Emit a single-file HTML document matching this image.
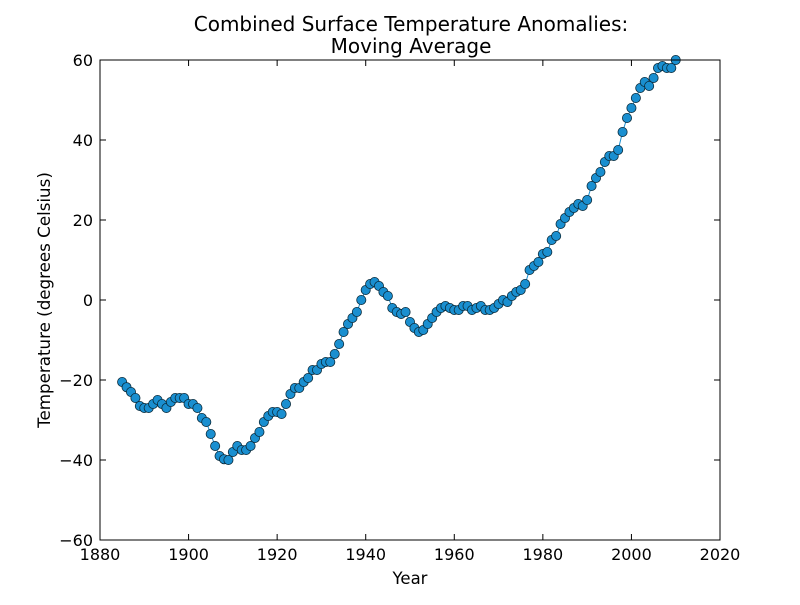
<!DOCTYPE html>
<html><head><meta charset="utf-8"><style>
body{margin:0;background:#fff;}
svg text{font-family:"DejaVu Sans","Liberation Sans",sans-serif;fill:#000;}
</style></head><body>
<svg id="chart" width="800" height="600" xmlns="http://www.w3.org/2000/svg">
<rect width="800" height="600" fill="#fff"/>
<text x="411" y="31" font-size="20" text-anchor="middle">Combined Surface Temperature Anomalies:</text>
<text x="411" y="53" font-size="20" text-anchor="middle">Moving Average</text>
<g id="axes"></g>
<g id="marks"></g>
<rect x="100" y="60" width="620" height="480" fill="none" stroke="#000" stroke-width="1"/>
<text x="410" y="584" font-size="16.5" text-anchor="middle">Year</text>
<text x="50" y="300" font-size="16.7" text-anchor="middle" transform="rotate(-90 50 300)">Temperature (degrees Celsius)</text>
</svg>
<script>
const startYear = 1885;
const values = [-20.5,-21.8,-23,-24.5,-26.5,-27,-27,-26,-25,-26,-27,-25.5,-24.5,-24.5,-24.5,-26,-26,-27,-29.5,-30.5,
-33.5,-36.5,-39,-39.8,-40,-38,-36.5,-37.5,-37.5,-36.5,-34.5,-33,-30.5,-29,-28,-28,-28.5,-26,-23.5,-22,
-22,-20.5,-19.5,-17.5,-17.5,-16,-15.5,-15.5,-13.5,-11,-8,-6,-4.5,-3,0,2.5,4,4.5,3.5,2,
1,-2,-3,-3.5,-3,-5.5,-7,-8,-7.5,-6,-4.5,-3,-2,-1.5,-2,-2.5,-2.5,-1.5,-1.5,-2.5,
-2,-1.5,-2.5,-2.5,-2,-1,0,-0.5,1,2,2.5,4,7.5,8.5,9.5,11.5,12,15,16,19,
20.5,22,23,24,23.5,25,28.5,30.5,32,34.5,36,36,37.5,42,45.5,48,50.5,53,54.5,53.5,
55.5,58,58.5,58,58,60];
const xTicks = [1880,1900,1920,1940,1960,1980,2000,2020];
const yTicks = [-60,-40,-20,0,20,40,60];
const NS="http://www.w3.org/2000/svg";
const X0=100,X1=720,Y0=540,Y1=60;
const xs=v=>X0+(v-1880)/(2020-1880)*(X1-X0);
const ys=v=>Y0-(v+60)/120*(Y0-Y1);
const axes=document.getElementById('axes'),marks=document.getElementById('marks');
function mk(t,a,p){const e=document.createElementNS(NS,t);for(const k in a)e.setAttribute(k,a[k]);p.appendChild(e);return e;}
xTicks.forEach(t=>{
 const x=xs(t);
 const g=mk('g',{},axes);
 
 
 mk('line',{x1:x,x2:x,y1:Y0,y2:Y0-6,stroke:'#000'},g);
 mk('line',{x1:x,x2:x,y1:Y1,y2:Y1+6,stroke:'#000'},g);
 const tx=mk('text',{x:x,y:Y0+20,'font-size':16,'text-anchor':'middle'},g);tx.textContent=t;
});
yTicks.forEach(t=>{
 const y=ys(t);
 const g=mk('g',{},axes);
 
 
 mk('line',{x1:X0,x2:X0+6,y1:y,y2:y,stroke:'#000'},g);
 mk('line',{x1:X1,x2:X1-6,y1:y,y2:y,stroke:'#000'},g);
 const tx=mk('text',{x:X0-7,y:y+6,'font-size':16,'text-anchor':'end'},g);tx.textContent=(t<0?'\u2212'+(-t):t);
});
const pts=values.map((v,i)=>[xs(startYear+i),ys(v)]);
const line=mk('polyline',{points:pts.map(p=>p.join(',')).join(' '),fill:'none',stroke:'#1a8fd0','stroke-width':1},marks);


pts.forEach((p,i)=>{
 const c=mk('circle',{cx:p[0],cy:p[1],r:4.6,fill:'#1a8fd0',stroke:'#0a2a3a','stroke-width':0.8},marks);
 
 
});
</script>
</body></html>
